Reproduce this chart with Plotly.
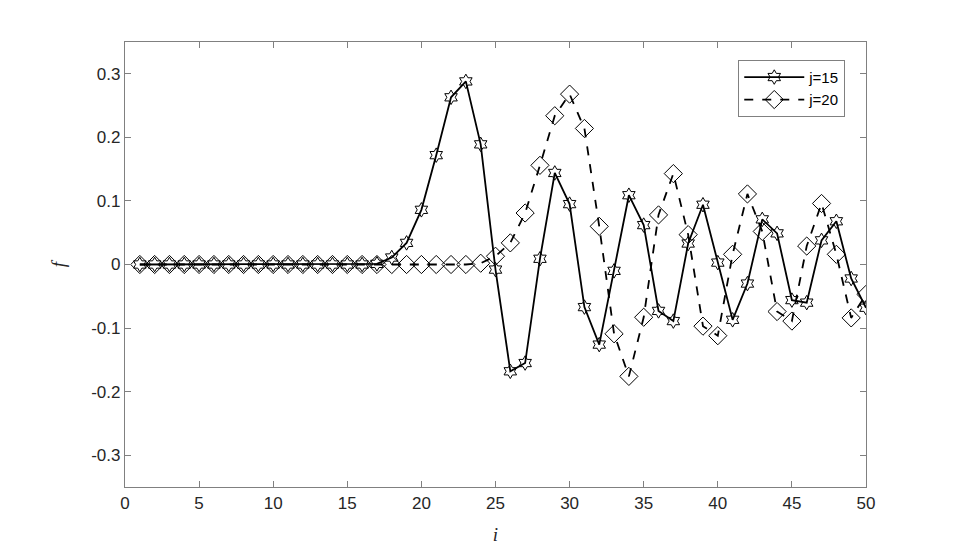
import plotly.graph_objects as go

i_vals = list(range(1, 51))

f_j15 = [0]*16 + [0.001, 0.011, 0.034, 0.086, 0.172, 0.263, 0.288, 0.189, -0.008,
         -0.168, -0.155, 0.009, 0.144, 0.095, -0.067, -0.126, -0.010, 0.109, 0.062,
         -0.073, -0.089, 0.033, 0.094, 0.003, -0.087, -0.030, 0.071, 0.049, -0.056,
         -0.060, 0.038, 0.068, -0.022, -0.068]

f_j20 = [0]*23 + [0.002, 0.013, 0.034, 0.081, 0.156, 0.234, 0.268, 0.214, 0.060,
         -0.109, -0.176, -0.083, 0.078, 0.143, 0.047, -0.097, -0.112, 0.016, 0.111,
         0.052, -0.074, -0.089, 0.029, 0.096, 0.016, -0.084, -0.047]

x_ticks = list(range(0, 51, 5))
y_ticks = [-0.3, -0.2, -0.1, 0, 0.1, 0.2, 0.3]
y_tick_labels = ["-0.3", "-0.2", "-0.1", "0", "0.1", "0.2", "0.3"]

fig = go.Figure()
fig.add_trace(go.Scatter(
    x=i_vals, y=f_j15, name="j=15", mode="lines+markers",
    line=dict(color="black", width=1.8, dash="solid"),
    marker=dict(symbol="hexagram-open", size=11, color="black", line=dict(width=1)),
))
fig.add_trace(go.Scatter(
    x=i_vals, y=f_j20, name="j=20", mode="lines+markers",
    line=dict(color="black", width=1.8, dash="dash"),
    marker=dict(symbol="diamond-open", size=14, color="black", line=dict(width=1)),
))

axis_common = dict(
    showgrid=False, zeroline=False, showline=True, linecolor="#808080", linewidth=1.2,
    mirror="ticks", ticks="inside", ticklen=6, tickcolor="#808080", tickwidth=1.2,
    tickfont=dict(family="Liberation Sans, Arial", size=17, color="#262626"),
)

fig.update_layout(
    width=949, height=546,
    margin=dict(l=117, r=91, t=34, b=62),
    paper_bgcolor="white", plot_bgcolor="white",
    showlegend=True,
    legend=dict(
        x=0.972, y=0.96, xanchor="right", yanchor="top",
        bgcolor="white", bordercolor="#808080", borderwidth=1,
        font=dict(family="Liberation Sans, Arial", size=15, color="black"),
        itemwidth=60, tracegroupgap=0,
    ),
    xaxis=dict(range=[0, 50], tickvals=x_ticks,
               title=dict(text="<i>i</i>", font=dict(family="Liberation Serif", size=19, color="#262626"), standoff=16),
               **axis_common),
    yaxis=dict(range=[-0.35, 0.35], tickvals=y_ticks, ticktext=y_tick_labels,
               title=dict(text="<i>f</i>", font=dict(family="Liberation Serif", size=19, color="#262626"), standoff=20),
               **axis_common),
)

fig.write_html("out.html")
